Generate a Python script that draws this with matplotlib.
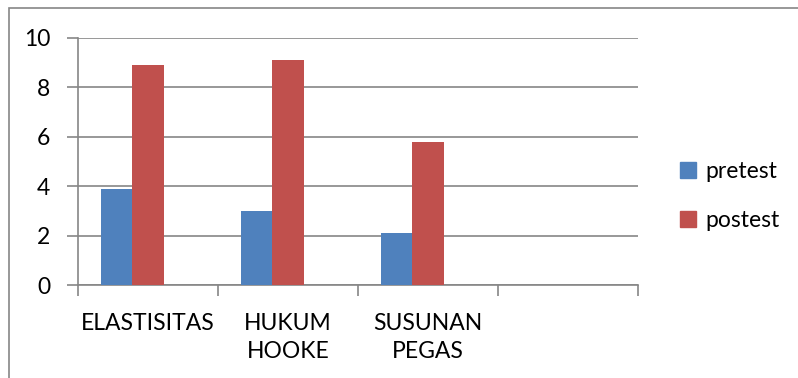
import numpy as np
import matplotlib.pyplot as plt
from matplotlib.patches import Patch, Rectangle

categories = ['ELASTISITAS', 'HUKUM\nHOOKE', 'SUSUNAN\nPEGAS', '']
pretest = [3.9, 3.0, 2.1, np.nan]
postest = [8.9, 9.1, 5.8, np.nan]
series_names = ['pretest', 'postest']
colors = ['#4F81BD', '#C0504D']

plt.rcParams['font.family'] = ['Lato', 'DejaVu Sans']
fs = 16.5

fig = plt.figure(figsize=(7.98, 3.78), dpi=100)
fig.patch.set_facecolor('white')

# chart area border (runs off the right and bottom)
fig.patches.append(Rectangle((9 / 798, -0.1), 1.0, 1 - 8 / 378 + 0.1,
                             transform=fig.transFigure, fill=False,
                             edgecolor='#868686', linewidth=1.2))

ax = fig.add_axes([78 / 798, 93 / 378, 560 / 798, 247 / 378])

x = np.arange(len(categories))
w = 0.224
ax.bar(x - w, pretest, w, color=colors[0], label=series_names[0], zorder=3)
ax.bar(x, postest, w, color=colors[1], label=series_names[1], zorder=3)

ax.set_xlim(-0.5, len(categories) - 0.5)
ax.set_ylim(0, 10)
ax.set_yticks(np.arange(0, 11, 2))
ax.yaxis.grid(True, color='#868686', linewidth=1.2, zorder=0)

ax.set_xticks(x)
ax.set_xticklabels(categories, fontsize=fs, linespacing=1.4)
ax.set_xticks(np.arange(-0.5, len(categories)), minor=True)
ax.tick_params(axis='x', which='major', length=0, pad=20)
ax.tick_params(axis='x', which='minor', length=8, width=1.2, color='#868686')
ax.tick_params(axis='y', length=8, width=1.2, color='#868686', labelsize=fs, pad=12)

for side in ['top', 'right']:
    ax.spines[side].set_visible(False)
for side in ['left', 'bottom']:
    ax.spines[side].set_color('#868686')
    ax.spines[side].set_linewidth(1.2)

handles = [Patch(color=c, label=n) for c, n in zip(colors, series_names)]
fig.legend(handles=handles, loc='center left', bbox_to_anchor=(680 / 798, 182 / 378),
           frameon=False, fontsize=fs, handlelength=0.7, handleheight=0.7,
           handletextpad=0.4, labelspacing=1.25, borderpad=0, borderaxespad=0)

fig.savefig('out.png', dpi=100, facecolor='white')
